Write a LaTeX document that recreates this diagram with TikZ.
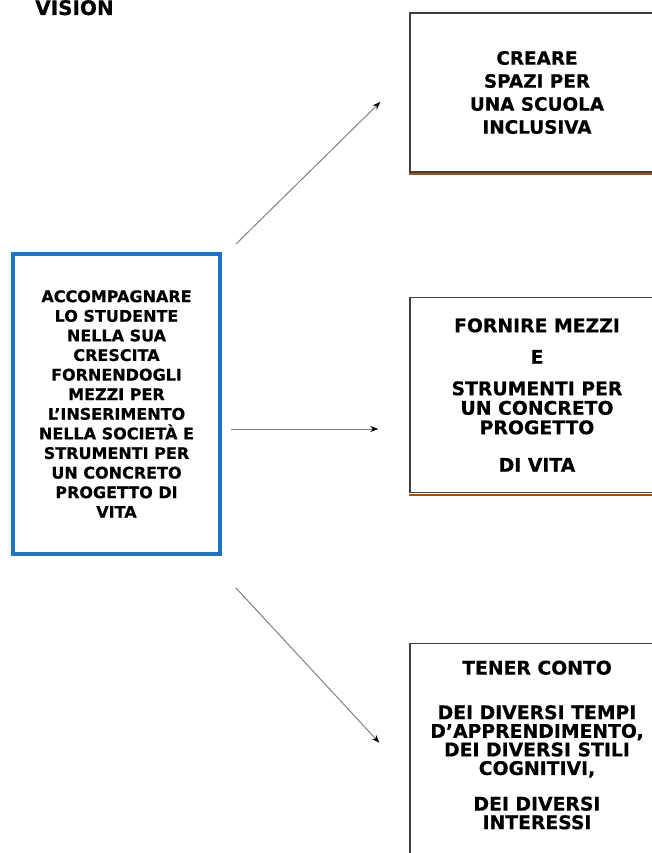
\documentclass[tikz,border=0pt]{standalone}
\usepackage{fontspec}
\setsansfont{DejaVu Sans}[BoldFeatures={FakeBold=0.5}]
\usetikzlibrary{arrows.meta, positioning}

\definecolor{goalblue}{RGB}{30,115,195}
\definecolor{shadowbrown}{RGB}{160,80,25}

\tikzset{
  goalbox/.style={draw=goalblue, line width=3.5pt, minimum width=207pt,
    minimum height=300pt, align=center, inner sep=0pt,
    font=\sffamily\bfseries\fontsize{16}{19.6}\selectfont},
  aimbox/.style={draw=black!75, line width=1.4pt, minimum width=254pt,
    align=center, inner sep=0pt},
  aimtext/.style={align=center, inner sep=0pt},
  shadowline/.style={shadowbrown, line width=1.6pt},
  link/.style={black!50, line width=1pt, -{Stealth[length=8pt,width=6pt,black]}}
}

\begin{document}
\begin{tikzpicture}[x=1pt, y=-1pt]
  \useasboundingbox (0,0) rectangle (652,853);

  \node[anchor=base west, inner sep=0pt, font=\sffamily\bfseries\fontsize{20}{24}\selectfont] (title) at (35,15) {VISION};

  % main goal
  \node[goalbox] (goal) at (116.5,404) {ACCOMPAGNARE\\LO STUDENTE\\NELLA SUA\\CRESCITA\\FORNENDOGLI\\MEZZI PER\\L’INSERIMENTO\\NELLA SOCIETÀ E\\STRUMENTI PER\\UN CONCRETO\\PROGETTO DI\\VITA};

  % the three aims
  \node[aimbox, minimum height=159pt, font=\sffamily\bfseries\fontsize{18.4}{23}\selectfont] (aim1) at (537,92.5) {CREARE\\SPAZI PER\\UNA SCUOLA\\INCLUSIVA};
  \node[aimbox, minimum height=195pt, font=\sffamily\bfseries\fontsize{18.8}{19.5}\selectfont] (aim2) at (537,395) {FORNIRE MEZZI\\[12pt]E\\[12pt]STRUMENTI PER\\UN CONCRETO\\PROGETTO\\[18pt]DI VITA};
  \node[aimbox, minimum height=220pt, anchor=north] (aim3) at (537,643) {};
  \node[aimtext, font=\sffamily\bfseries\fontsize{18.8}{18.6}\selectfont] (aim3text) at (537,745) {TENER CONTO\\[26pt]DEI DIVERSI TEMPI\\D’APPRENDIMENTO,\\DEI DIVERSI STILI\\COGNITIVI,\\[17pt]DEI DIVERSI\\INTERESSI};

  \draw[shadowline] ([yshift=-1.6pt]aim1.south west) -- ([yshift=-1.6pt]aim1.south east);
  \draw[shadowline] ([yshift=-1.6pt]aim2.south west) -- ([yshift=-1.6pt]aim2.south east);

  % arrow ends
  \coordinate (from1) at ([shift={(14,-8)}]goal.north east);
  \coordinate (from2) at ([shift={(9,25)}]goal.east);
  \coordinate (from3) at ([shift={(14,32)}]goal.south east);
  \coordinate (to1) at ([shift={(-29,9.5)}]aim1.west);
  \coordinate (to2) at ([shift={(-31,34)}]aim2.west);
  \coordinate (to3) at ([shift={(-30,-11)}]aim3.west);

  \draw[link] (from1) -- (to1);
  \draw[link] (from2) -- (to2);
  \draw[link] (from3) -- (to3);
\end{tikzpicture}
\end{document}
